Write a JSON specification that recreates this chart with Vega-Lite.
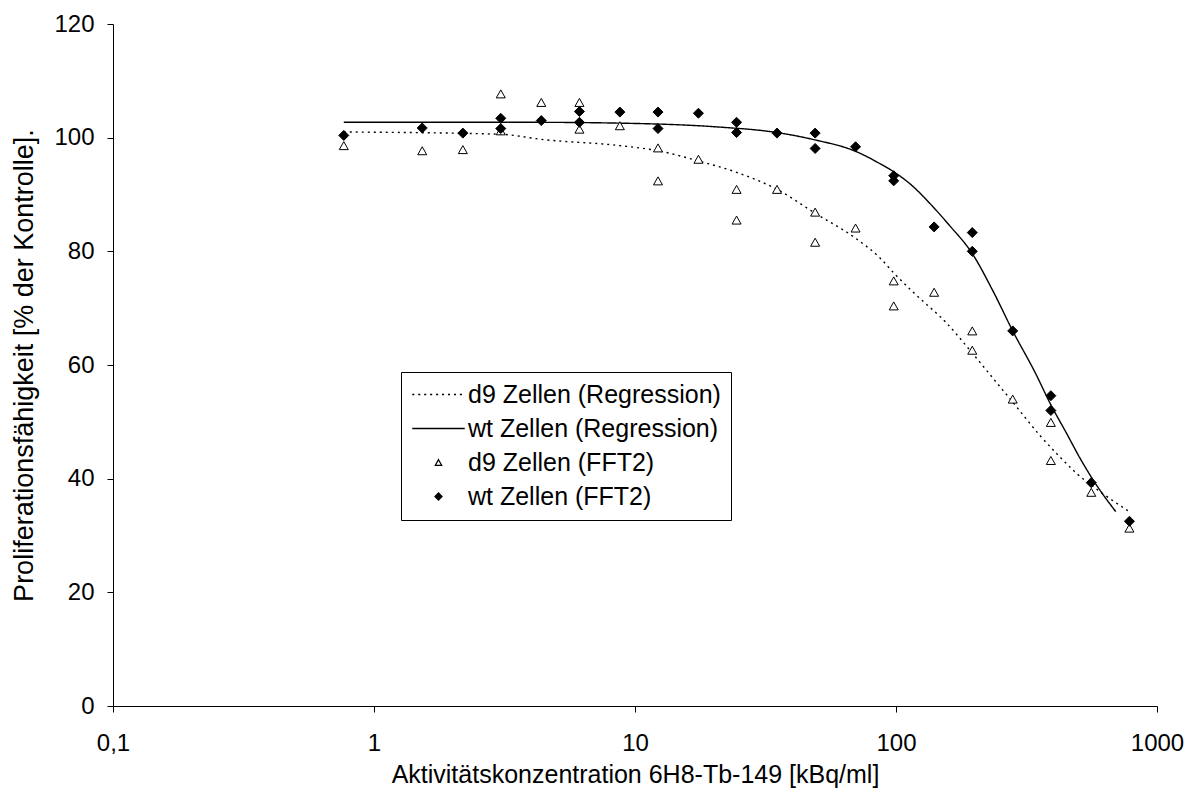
{
  "$schema": "https://vega.github.io/schema/vega-lite/v6.json",
  "width": 1044,
  "height": 682,
  "autosize": {"type": "none"},
  "padding": {"left": 113, "top": 24, "right": 35, "bottom": 97},
  "background": "white",
  "config": {
    "font": "Liberation Sans",
    "view": {"stroke": null},
    "axis": {
      "grid": false,
      "domainColor": "black",
      "tickColor": "black",
      "labelColor": "black",
      "titleColor": "black",
      "labelFont": "Liberation Sans",
      "titleFont": "Liberation Sans",
      "labelFontSize": 24,
      "titleFontSize": 25,
      "titleFontWeight": "normal",
      "tickSize": 6,
      "domainWidth": 1,
      "tickWidth": 1
    }
  },
  "datasets": {
    "curves": [
      {"x": 0.766, "y": 101.0, "series": "d9 Zellen (Regression)"},
      {"x": 3.06, "y": 100.6, "series": "d9 Zellen (Regression)"},
      {"x": 4.375, "y": 99.7, "series": "d9 Zellen (Regression)"},
      {"x": 8.75, "y": 98.6, "series": "d9 Zellen (Regression)"},
      {"x": 12.25, "y": 97.7, "series": "d9 Zellen (Regression)"},
      {"x": 17.5, "y": 95.9, "series": "d9 Zellen (Regression)"},
      {"x": 24.5, "y": 93.9, "series": "d9 Zellen (Regression)"},
      {"x": 35, "y": 90.9, "series": "d9 Zellen (Regression)"},
      {"x": 49, "y": 86.7, "series": "d9 Zellen (Regression)"},
      {"x": 70, "y": 82.3, "series": "d9 Zellen (Regression)"},
      {"x": 87, "y": 78.8, "series": "d9 Zellen (Regression)"},
      {"x": 98, "y": 76.2, "series": "d9 Zellen (Regression)"},
      {"x": 117, "y": 72.7, "series": "d9 Zellen (Regression)"},
      {"x": 156, "y": 67.4, "series": "d9 Zellen (Regression)"},
      {"x": 196, "y": 62.1, "series": "d9 Zellen (Regression)"},
      {"x": 236, "y": 57.6, "series": "d9 Zellen (Regression)"},
      {"x": 282, "y": 53.3, "series": "d9 Zellen (Regression)"},
      {"x": 356, "y": 47.6, "series": "d9 Zellen (Regression)"},
      {"x": 425, "y": 43.8, "series": "d9 Zellen (Regression)"},
      {"x": 490, "y": 41.0, "series": "d9 Zellen (Regression)"},
      {"x": 614, "y": 37.5, "series": "d9 Zellen (Regression)"},
      {"x": 784, "y": 34.2, "series": "d9 Zellen (Regression)"},
      {"x": 0.766, "y": 102.7, "series": "wt Zellen (Regression)"},
      {"x": 4.1, "y": 102.7, "series": "wt Zellen (Regression)"},
      {"x": 10, "y": 102.5, "series": "wt Zellen (Regression)"},
      {"x": 20.5, "y": 101.9, "series": "wt Zellen (Regression)"},
      {"x": 35, "y": 100.9, "series": "wt Zellen (Regression)"},
      {"x": 49, "y": 99.6, "series": "wt Zellen (Regression)"},
      {"x": 70, "y": 97.6, "series": "wt Zellen (Regression)"},
      {"x": 87, "y": 95.4, "series": "wt Zellen (Regression)"},
      {"x": 98, "y": 94.0, "series": "wt Zellen (Regression)"},
      {"x": 115, "y": 91.6, "series": "wt Zellen (Regression)"},
      {"x": 135, "y": 88.4, "series": "wt Zellen (Regression)"},
      {"x": 160, "y": 84.6, "series": "wt Zellen (Regression)"},
      {"x": 196, "y": 79.6, "series": "wt Zellen (Regression)"},
      {"x": 236, "y": 72.9, "series": "wt Zellen (Regression)"},
      {"x": 280, "y": 66.0, "series": "wt Zellen (Regression)"},
      {"x": 341, "y": 58.7, "series": "wt Zellen (Regression)"},
      {"x": 392, "y": 53.0, "series": "wt Zellen (Regression)"},
      {"x": 450, "y": 48.0, "series": "wt Zellen (Regression)"},
      {"x": 510, "y": 43.4, "series": "wt Zellen (Regression)"},
      {"x": 580, "y": 39.2, "series": "wt Zellen (Regression)"},
      {"x": 695, "y": 34.2, "series": "wt Zellen (Regression)"}
    ],
    "points": [
      {"x": 0.766, "y": 98.6, "series": "d9 Zellen (FFT2)"},
      {"x": 1.53, "y": 97.7, "series": "d9 Zellen (FFT2)"},
      {"x": 2.19, "y": 97.9, "series": "d9 Zellen (FFT2)"},
      {"x": 3.06, "y": 107.7, "series": "d9 Zellen (FFT2)"},
      {"x": 3.06, "y": 101.2, "series": "d9 Zellen (FFT2)"},
      {"x": 4.375, "y": 106.2, "series": "d9 Zellen (FFT2)"},
      {"x": 6.125, "y": 106.2, "series": "d9 Zellen (FFT2)"},
      {"x": 6.125, "y": 101.5, "series": "d9 Zellen (FFT2)"},
      {"x": 8.75, "y": 102.1, "series": "d9 Zellen (FFT2)"},
      {"x": 12.25, "y": 98.2, "series": "d9 Zellen (FFT2)"},
      {"x": 12.25, "y": 92.4, "series": "d9 Zellen (FFT2)"},
      {"x": 17.5, "y": 96.2, "series": "d9 Zellen (FFT2)"},
      {"x": 24.5, "y": 90.9, "series": "d9 Zellen (FFT2)"},
      {"x": 24.5, "y": 85.5, "series": "d9 Zellen (FFT2)"},
      {"x": 35, "y": 90.9, "series": "d9 Zellen (FFT2)"},
      {"x": 49, "y": 86.9, "series": "d9 Zellen (FFT2)"},
      {"x": 49, "y": 81.6, "series": "d9 Zellen (FFT2)"},
      {"x": 70, "y": 84.1, "series": "d9 Zellen (FFT2)"},
      {"x": 98, "y": 74.8, "series": "d9 Zellen (FFT2)"},
      {"x": 98, "y": 70.4, "series": "d9 Zellen (FFT2)"},
      {"x": 140, "y": 72.8, "series": "d9 Zellen (FFT2)"},
      {"x": 196, "y": 66.0, "series": "d9 Zellen (FFT2)"},
      {"x": 196, "y": 62.6, "series": "d9 Zellen (FFT2)"},
      {"x": 280, "y": 54.0, "series": "d9 Zellen (FFT2)"},
      {"x": 392, "y": 49.9, "series": "d9 Zellen (FFT2)"},
      {"x": 392, "y": 43.2, "series": "d9 Zellen (FFT2)"},
      {"x": 560, "y": 37.6, "series": "d9 Zellen (FFT2)"},
      {"x": 784, "y": 31.3, "series": "d9 Zellen (FFT2)"},
      {"x": 0.766, "y": 100.4, "series": "wt Zellen (FFT2)"},
      {"x": 1.53, "y": 101.7, "series": "wt Zellen (FFT2)"},
      {"x": 2.19, "y": 100.8, "series": "wt Zellen (FFT2)"},
      {"x": 3.06, "y": 103.4, "series": "wt Zellen (FFT2)"},
      {"x": 3.06, "y": 101.6, "series": "wt Zellen (FFT2)"},
      {"x": 4.375, "y": 103.0, "series": "wt Zellen (FFT2)"},
      {"x": 6.125, "y": 104.6, "series": "wt Zellen (FFT2)"},
      {"x": 6.125, "y": 102.7, "series": "wt Zellen (FFT2)"},
      {"x": 8.75, "y": 104.5, "series": "wt Zellen (FFT2)"},
      {"x": 12.25, "y": 104.5, "series": "wt Zellen (FFT2)"},
      {"x": 12.25, "y": 101.6, "series": "wt Zellen (FFT2)"},
      {"x": 17.5, "y": 104.3, "series": "wt Zellen (FFT2)"},
      {"x": 24.5, "y": 102.7, "series": "wt Zellen (FFT2)"},
      {"x": 24.5, "y": 100.9, "series": "wt Zellen (FFT2)"},
      {"x": 35, "y": 100.8, "series": "wt Zellen (FFT2)"},
      {"x": 49, "y": 100.8, "series": "wt Zellen (FFT2)"},
      {"x": 49, "y": 98.1, "series": "wt Zellen (FFT2)"},
      {"x": 70, "y": 98.4, "series": "wt Zellen (FFT2)"},
      {"x": 98, "y": 93.3, "series": "wt Zellen (FFT2)"},
      {"x": 98, "y": 92.4, "series": "wt Zellen (FFT2)"},
      {"x": 140, "y": 84.3, "series": "wt Zellen (FFT2)"},
      {"x": 196, "y": 83.3, "series": "wt Zellen (FFT2)"},
      {"x": 196, "y": 80.0, "series": "wt Zellen (FFT2)"},
      {"x": 280, "y": 66.0, "series": "wt Zellen (FFT2)"},
      {"x": 392, "y": 54.6, "series": "wt Zellen (FFT2)"},
      {"x": 392, "y": 52.0, "series": "wt Zellen (FFT2)"},
      {"x": 560, "y": 39.3, "series": "wt Zellen (FFT2)"},
      {"x": 784, "y": 32.5, "series": "wt Zellen (FFT2)"}
    ]
  },
  "encoding": {
    "x": {
      "field": "x",
      "type": "quantitative",
      "scale": {"type": "log", "domain": [0.1, 1000], "nice": false},
      "axis": {
        "title": "Aktivitätskonzentration 6H8-Tb-149 [kBq/ml]",
        "values": [0.1, 1, 10, 100, 1000],
        "labelExpr": "datum.value < 0.5 ? '0,1' : format(datum.value, 'd')",
        "labelPadding": 19,
        "titlePadding": 7,
        "labelFlush": false
      }
    },
    "y": {
      "field": "y",
      "type": "quantitative",
      "scale": {"domain": [0, 120], "nice": false},
      "axis": {
        "title": "Proliferationsfähigkeit [% der Kontrolle].",
        "titleFontSize": 27,
        "values": [0, 20, 40, 60, 80, 100, 120],
        "labelPadding": 13,
        "titlePadding": 15
      }
    }
  },
  "layer": [
    {
      "data": {"name": "curves"},
      "mark": {"type": "line", "color": "black", "strokeWidth": 1.4, "interpolate": "monotone"},
      "encoding": {
        "detail": {"field": "series"},
        "strokeDash": {
          "field": "series",
          "type": "nominal",
          "scale": {"domain": ["d9 Zellen (Regression)", "wt Zellen (Regression)"], "range": [[2, 4], [1, 0]]},
          "legend": null
        }
      }
    },
    {
      "data": {"name": "points"},
      "mark": {"type": "point", "stroke": "black", "strokeWidth": 1, "opacity": 1, "size": 100},
      "encoding": {
        "shape": {
          "field": "series",
          "type": "nominal",
          "scale": {
            "domain": ["d9 Zellen (Regression)", "wt Zellen (Regression)", "d9 Zellen (FFT2)", "wt Zellen (FFT2)"],
            "range": [
              "M-7.5,0H-6.9M-5.8,0H-5.2M-4.1,0H-3.5M-2.4,0H-1.8M-0.7,0H-0.1M1,0H1.6M2.7,0H3.3M4.4,0H5M6.1,0H6.7",
              "M-7.5,0H7.5",
              "M0,-0.8L0.9,0.8L-0.9,0.8Z",
              "M0,-1L1,0L0,1L-1,0Z"
            ]
          },
          "legend": {
            "title": null,
            "orient": "none",
            "legendX": 288,
            "legendY": 348,
            "strokeColor": "black",
            "fillColor": "white",
            "padding": 10,
            "symbolSize": 49,
            "symbolStrokeColor": "black",
            "symbolStrokeWidth": 1.3,
            "symbolOpacity": 1,
            "symbolOffset": 15,
            "labelOffset": 17,
            "labelFont": "Liberation Sans",
            "labelFontSize": 25,
            "labelColor": "black",
            "labelLimit": 500,
            "rowPadding": 8,
            "encode": {
              "symbols": {"update": {"stroke": {"value": "black"}, "strokeWidth": {"value": 1.3}, "opacity": {"value": 1}}}
            }
          }
        },
        "fill": {
          "field": "series",
          "type": "nominal",
          "scale": {
            "domain": ["d9 Zellen (Regression)", "wt Zellen (Regression)", "d9 Zellen (FFT2)", "wt Zellen (FFT2)"],
            "range": ["black", "black", "white", "black"]
          },
          "legend": {
            "title": null,
            "orient": "none",
            "legendX": 288,
            "legendY": 348,
            "strokeColor": "black",
            "fillColor": "white",
            "padding": 10,
            "symbolSize": 49,
            "symbolStrokeColor": "black",
            "symbolStrokeWidth": 1.3,
            "symbolOpacity": 1,
            "symbolOffset": 15,
            "labelOffset": 17,
            "labelFont": "Liberation Sans",
            "labelFontSize": 25,
            "labelColor": "black",
            "labelLimit": 500,
            "rowPadding": 8,
            "encode": {
              "symbols": {"update": {"stroke": {"value": "black"}, "strokeWidth": {"value": 1.3}, "opacity": {"value": 1}}}
            }
          }
        }
      }
    }
  ]
}
